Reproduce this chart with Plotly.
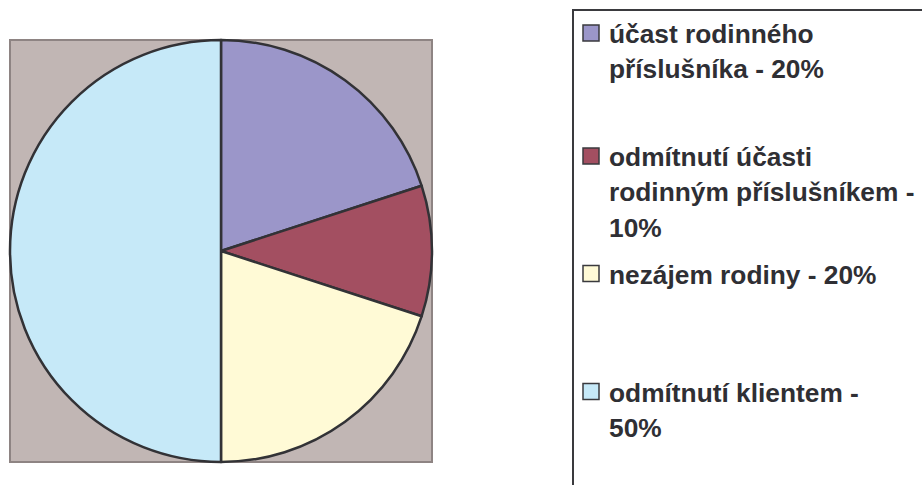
import textwrap
import plotly.graph_objects as go

# Pie data: category names, percentage shares, slice colours
names = [
    "účast rodinného příslušníka",
    "odmítnutí účasti rodinným příslušníkem",
    "nezájem rodiny",
    "odmítnutí klientem",
]
values = [20, 10, 20, 50]
colors = ["#9b96c9", "#a34f61", "#fffad6", "#c6e9f8"]

W, H = 922, 485


def px_x(x):
    return x / W


def px_y(y):
    return 1 - y / H


fig = go.Figure()

fig.add_trace(go.Pie(
    labels=names,
    values=values,
    sort=False,
    direction="clockwise",
    rotation=0,
    marker=dict(colors=colors, line=dict(color="#323236", width=2.5)),
    textinfo="none",
    hoverinfo="label+percent",
    showlegend=False,
    domain=dict(x=[px_x(10), px_x(432)], y=[px_y(462), px_y(40)]),
))

shapes = [
    # plot-area backdrop behind the pie
    dict(type="rect", xref="paper", yref="paper", layer="below",
         x0=px_x(10), x1=px_x(432), y0=px_y(462), y1=px_y(40),
         fillcolor="#c1b6b4", line=dict(color="#8e8483", width=2)),
    # legend frame (runs off the right and bottom edges)
    dict(type="rect", xref="paper", yref="paper", layer="above",
         x0=px_x(573), x1=px_x(940), y0=px_y(500), y1=px_y(10),
         fillcolor="rgba(0,0,0,0)", line=dict(color="#3a3a3e", width=2)),
]

annotations = []
entry_centers = [33, 156, 273.5, 391.5]
line_gap = 35.5
font = dict(family="Liberation Sans, Arial, sans-serif", size=26.3, color="#2f2f34")

for name, val, col, cy in zip(names, values, colors, entry_centers):
    shapes.append(dict(
        type="rect", xref="paper", yref="paper", layer="above",
        x0=px_x(583), x1=px_x(599), y0=px_y(cy + 8), y1=px_y(cy - 8),
        fillcolor=col, line=dict(color="#3a3a3e", width=1.5)))
    text = f"{name} - {val}%"
    lines = textwrap.wrap(text, width=23, break_on_hyphens=False)
    for i, ln in enumerate(lines):
        annotations.append(dict(
            xref="paper", yref="paper", x=px_x(607), y=px_y(cy + 1 + i * line_gap),
            xanchor="left", yanchor="middle", showarrow=False,
            text=f"<b>{ln}</b>", font=font, align="left"))

fig.update_layout(
    width=W, height=H,
    margin=dict(l=0, r=0, t=0, b=0),
    paper_bgcolor="white",
    plot_bgcolor="white",
    shapes=shapes,
    annotations=annotations,
)

fig.write_html("out.html")
